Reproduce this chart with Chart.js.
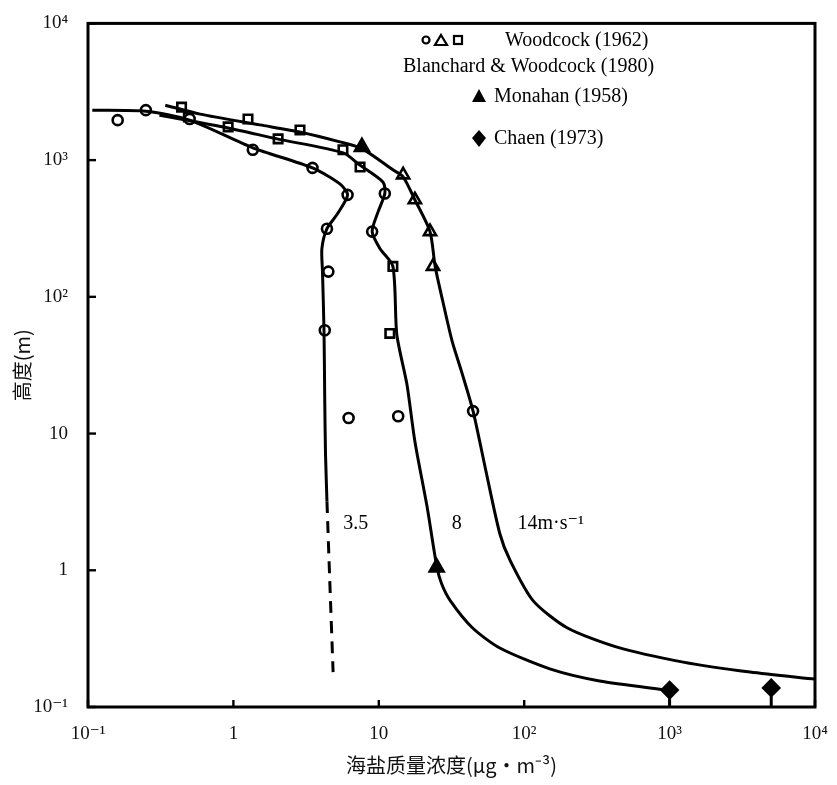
<!DOCTYPE html>
<html>
<head>
<meta charset="utf-8">
<script src="https://cdn.jsdelivr.net/npm/chart.js@4/dist/chart.umd.min.js"></script>
<style>
  html, body { margin: 0; background: #fff; }
</style>
</head>
<body>
<canvas id="myChart" width="837" height="785"></canvas>
<script>
// axis decades and their labels
const decades = [0.1, 1, 10, 100, 1000, 10000];
const xTickLabels = ['10⁻¹', '1', '10', '10²', '10³', '10⁴'];
const yTickLabels = ['10⁻¹', '1', '10', '10²', '10³', '10⁴'];

// 3.5 m/s curve (solid part, then dashed tail)
const curve35X = [0.107, 0.25, 0.50, 1.36, 3.5, 5.4, 6.1, 5.2, 4.4, 4.06, 4.1, 4.2, 4.25, 4.3, 4.4];
const curve35Y = [2320, 2280, 1960, 1230, 877, 670, 557, 405, 315, 225, 153, 56, 17, 7.1, 3.2];
const curve35DashX = [4.4, 4.6, 4.85];
const curve35DashY = [3.2, 0.84, 0.18];

// 8 m/s curve
const curve8X = [0.31, 0.92, 2.0, 5.7, 7.4, 10.7, 11, 9.9, 9.0, 10.2, 12.5, 13.3, 15.6, 17.7, 21.5, 25, 27, 31, 44, 68, 150, 330, 960];
const curve8Y = [2130, 1720, 1430, 1130, 920, 690, 570, 420, 300, 225, 167, 53, 23, 8.8, 2.9, 1.08, 0.80, 0.60, 0.38, 0.27, 0.19, 0.155, 0.133];

// 14 m/s curve
const curve14X = [0.34, 0.59, 1.52, 2.9, 5.4, 7.7, 12.5, 14.7, 17.7, 22.5, 24.4, 27.6, 32, 37, 44.5, 54, 68, 80, 115, 197, 435, 1240, 3570, 10000];
const curve14Y = [2520, 2170, 1810, 1600, 1360, 1210, 850, 755, 513, 300, 167, 92, 47, 28.6, 14.6, 5.6, 1.85, 1.18, 0.60, 0.38, 0.274, 0.213, 0.18, 0.16];

// Woodcock (1962), Blanchard & Woodcock (1980) observations
const circleX = [0.16, 0.25, 0.50, 1.36, 3.5, 6.1, 4.4, 9.0, 4.5, 4.25, 6.2, 11, 13.6, 44.5];
const circleY = [1960, 2320, 2000, 1190, 877, 557, 315, 300, 153, 57, 13, 570, 13.4, 14.6];
const squareX = [0.44, 0.49, 0.92, 1.26, 2.03, 2.87, 5.67, 7.43, 12.5, 11.9];
const squareY = [2440, 2070, 1750, 2000, 1430, 1660, 1190, 890, 167, 54];
const triOpenX = [14.7, 17.7, 22.5, 23.6];
const triOpenY = [780, 513, 300, 167];

// Monahan (1958)
const monahanX = [7.65, 25];
const monahanY = [1250, 1.05];

// Chaen (1973)
const chaenX = [1000, 5000];
const chaenY = [0.133, 0.138];

const pts = (xs, ys) => xs.map((x, i) => ({ x, y: ys[i] }));

const lineSet = (xs, ys, dash) => ({
  data: pts(xs, ys),
  showLine: true,
  borderColor: '#000',
  borderWidth: 3,
  borderDash: dash || [],
  tension: 0.25,
  pointRadius: 0,
  fill: false,
});

const markSet = (xs, ys, style, radius, filled) => ({
  data: pts(xs, ys),
  showLine: false,
  pointStyle: style,
  pointRadius: radius,
  pointBorderWidth: 2.6,
  pointBorderColor: '#000',
  pointBackgroundColor: filled ? '#000' : '#fff',
});

const datasets = [
  lineSet(curve35X, curve35Y),
  lineSet(curve35DashX, curve35DashY, [12, 8]),
  lineSet(curve8X, curve8Y),
  lineSet(curve14X, curve14Y),
];
// short bars under the Chaen points, down to the axis
chaenX.forEach((x, i) => {
  const s = lineSet([x, x], [0.1, chaenY[i]]);
  s.tension = 0;
  datasets.push(s);
});
datasets.push(
  markSet(circleX, circleY, 'circle', 5, false),
  markSet(squareX, squareY, 'rect', 6, false),
  markSet(triOpenX, triOpenY, 'triangle', 7, false),
  markSet(monahanX, monahanY, 'triangle', 8, true),
  markSet(chaenX, chaenY, 'rectRot', 8, true),
);

const serif = '"Liberation Serif", "DejaVu Serif", serif';
const cjk = '"Noto Sans CJK SC", sans-serif';

const overlay = {
  id: 'overlay',
  afterDatasetsDraw(chart) {
    const { ctx, chartArea: a, scales } = chart;
    const xs = scales.x, ys = scales.y;
    ctx.save();
    ctx.strokeStyle = '#000';
    ctx.fillStyle = '#000';
    ctx.lineWidth = 3;
    ctx.strokeRect(a.left, a.top, a.right - a.left, a.bottom - a.top);

    // inward tick marks
    ctx.lineWidth = 2.4;
    decades.forEach((v) => {
      const px = xs.getPixelForValue(v);
      ctx.beginPath(); ctx.moveTo(px, a.bottom); ctx.lineTo(px, a.bottom - 7); ctx.stroke();
      const py = ys.getPixelForValue(v);
      ctx.beginPath(); ctx.moveTo(a.left, py); ctx.lineTo(a.left + 8, py); ctx.stroke();
    });

    // curve labels
    ctx.font = '20px ' + serif;
    ctx.textBaseline = 'middle';
    ctx.textAlign = 'left';
    const ly = ys.getPixelForValue(2.2);
    ctx.fillText('3.5', xs.getPixelForValue(5.7), ly);
    ctx.fillText('8', xs.getPixelForValue(31.8), ly);
    ctx.fillText('14m·s⁻¹', xs.getPixelForValue(90), ly);

    // legend block
    ctx.lineWidth = 2.2;
    ctx.beginPath(); ctx.arc(426, 40, 3.5, 0, Math.PI * 2); ctx.stroke();
    ctx.beginPath(); ctx.moveTo(441, 35); ctx.lineTo(447, 45); ctx.lineTo(435, 45); ctx.closePath(); ctx.stroke();
    ctx.strokeRect(454, 36, 8, 8);
    ctx.fillText('Woodcock (1962)', 505, 41);
    ctx.fillText('Blanchard & Woodcock (1980)', 403, 67);
    ctx.beginPath(); ctx.moveTo(479, 89); ctx.lineTo(486, 102); ctx.lineTo(472, 102); ctx.closePath(); ctx.fill();
    ctx.fillText('Monahan (1958)', 494, 97);
    ctx.beginPath(); ctx.moveTo(479, 130); ctx.lineTo(486, 138); ctx.lineTo(479, 147); ctx.lineTo(472, 138); ctx.closePath(); ctx.fill();
    ctx.fillText('Chaen (1973)', 494, 139);
    ctx.restore();
  },
};

const logAxis = (labels, fitKey, fitVal) => ({
  type: 'logarithmic',
  min: 0.1,
  max: 10000,
  border: { display: false },
  grid: { display: false },
  afterBuildTicks: (scale) => { scale.ticks = decades.map((v) => ({ value: v })); },
  afterFit: (scale) => { scale[fitKey] = fitVal; },
  ticks: {
    autoSkip: false,
    maxRotation: 0,
    color: '#111',
    font: { family: serif, size: 19 },
    callback: (v, i) => labels[i],
  },
});

const xAxis = logAxis(xTickLabels, 'height', 78);
xAxis.ticks.padding = 8;
xAxis.title = { display: true, text: '海盐质量浓度(μg·m⁻³)', color: '#111', font: { family: cjk, size: 20 }, padding: { top: 4, bottom: 8 } };

const yAxis = logAxis(yTickLabels, 'width', 88);
yAxis.ticks.padding = 12;
yAxis.title = { display: true, text: '高度(m)', color: '#111', font: { family: cjk, size: 20 }, padding: { top: 10, bottom: 4 } };

new Chart(document.getElementById('myChart'), {
  type: 'scatter',
  data: { datasets },
  options: {
    responsive: false,
    animation: false,
    layout: { padding: { top: 21, right: 22, left: 0, bottom: 0 } },
    plugins: { legend: { display: false }, tooltip: { enabled: false } },
    scales: { x: xAxis, y: yAxis },
  },
  plugins: [overlay],
});
</script>
</body>
</html>
